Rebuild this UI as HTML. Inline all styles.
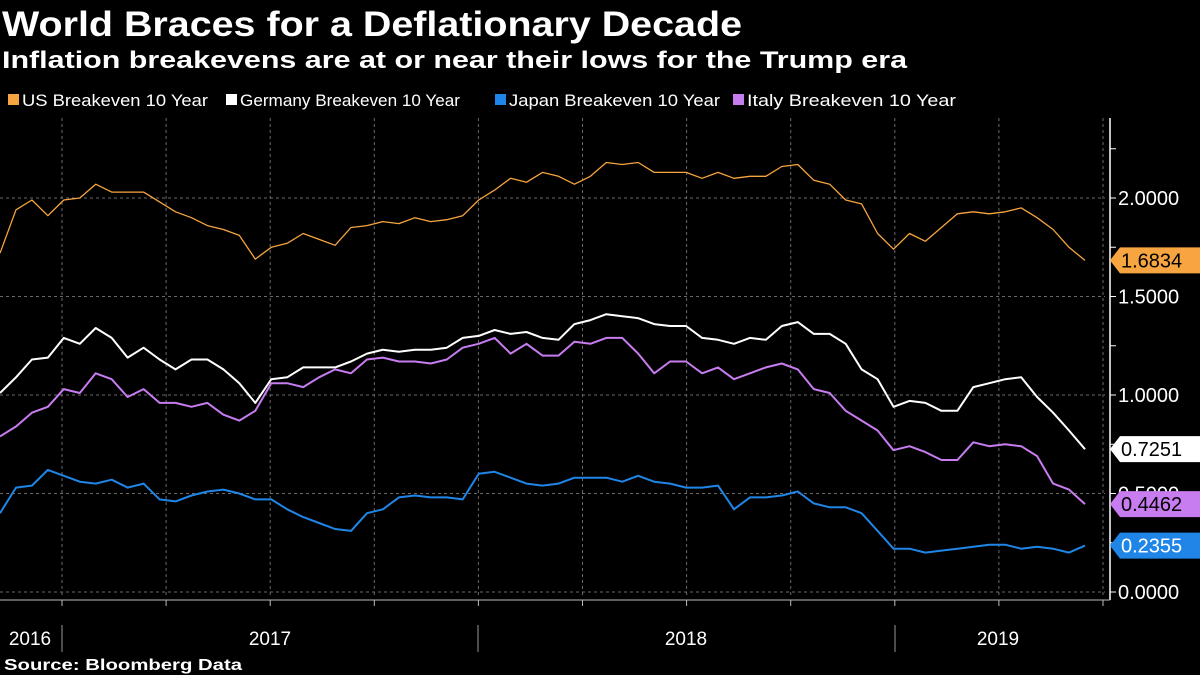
<!DOCTYPE html>
<html><head><meta charset="utf-8">
<style>
html,body{margin:0;padding:0;background:#000;}
svg{display:block;}
text{font-family:"Liberation Sans",sans-serif;}
</style></head>
<body>
<svg id="chart" width="1200" height="675" viewBox="0 0 1200 675" xmlns="http://www.w3.org/2000/svg">
<rect x="0" y="0" width="1200" height="675" fill="#000"/>
<text x="2" y="36" fill="#fff" font-size="35" font-weight="bold" textLength="740" lengthAdjust="spacingAndGlyphs">World Braces for a Deflationary Decade</text>
<text x="2" y="68" fill="#fff" font-size="24" font-weight="bold" textLength="905" lengthAdjust="spacingAndGlyphs">Inflation breakevens are at or near their lows for the Trump era</text>
<g id="legend"></g>
<g id="grid"></g>
<g id="series"></g>
<g id="axes"></g>
<text x="4" y="670" fill="#fff" font-size="16" font-weight="bold" textLength="238" lengthAdjust="spacingAndGlyphs">Source: Bloomberg Data</text>
</svg>
<script>
const seriesNames = ["US Breakeven 10 Year","Germany Breakeven 10 Year","Japan Breakeven 10 Year","Italy Breakeven 10 Year"];
const usValues = [1.72,1.94,1.99,1.91,1.99,2.00,2.07,2.03,2.03,2.03,1.98,1.93,1.90,1.86,1.84,1.81,1.69,1.75,1.77,1.82,1.79,1.76,1.85,1.86,1.88,1.87,1.90,1.88,1.89,1.91,1.99,2.04,2.10,2.08,2.13,2.11,2.07,2.11,2.18,2.17,2.18,2.13,2.13,2.13,2.10,2.13,2.10,2.11,2.11,2.16,2.17,2.09,2.07,1.99,1.97,1.82,1.74,1.82,1.78,1.85,1.92,1.93,1.92,1.93,1.95,1.90,1.84,1.75,1.6834];
const deValues = [1.01,1.09,1.18,1.19,1.29,1.26,1.34,1.29,1.19,1.24,1.18,1.13,1.18,1.18,1.13,1.06,0.96,1.08,1.09,1.14,1.14,1.14,1.17,1.21,1.23,1.22,1.23,1.23,1.24,1.29,1.30,1.33,1.31,1.32,1.29,1.28,1.36,1.38,1.41,1.40,1.39,1.36,1.35,1.35,1.29,1.28,1.26,1.29,1.28,1.35,1.37,1.31,1.31,1.26,1.13,1.08,0.94,0.97,0.96,0.92,0.92,1.04,1.06,1.08,1.09,0.99,0.91,0.82,0.7251];
const jpValues = [0.40,0.53,0.54,0.62,0.59,0.56,0.55,0.57,0.53,0.55,0.47,0.46,0.49,0.51,0.52,0.50,0.47,0.47,0.42,0.38,0.35,0.32,0.31,0.40,0.42,0.48,0.49,0.48,0.48,0.47,0.60,0.61,0.58,0.55,0.54,0.55,0.58,0.58,0.58,0.56,0.59,0.56,0.55,0.53,0.53,0.54,0.42,0.48,0.48,0.49,0.51,0.45,0.43,0.43,0.40,0.31,0.22,0.22,0.20,0.21,0.22,0.23,0.24,0.24,0.22,0.23,0.22,0.20,0.2355];
const itValues = [0.79,0.84,0.91,0.94,1.03,1.01,1.11,1.08,0.99,1.03,0.96,0.96,0.94,0.96,0.90,0.87,0.92,1.06,1.06,1.04,1.09,1.13,1.11,1.18,1.19,1.17,1.17,1.16,1.18,1.24,1.26,1.29,1.21,1.26,1.20,1.20,1.27,1.26,1.29,1.29,1.21,1.11,1.17,1.17,1.11,1.14,1.08,1.11,1.14,1.16,1.13,1.03,1.01,0.92,0.87,0.82,0.72,0.74,0.71,0.67,0.67,0.76,0.74,0.75,0.74,0.69,0.55,0.52,0.4462];
const yTicks = [0,0.5,1.0,1.5,2.0];
const yTickLabels = ["0.0000","0.5000","1.0000","1.5000","2.0000"];
const yearLabels = ["2016","2017","2018","2019"];
const colors = ["#f7a541","#ffffff","#1f86e8","#c77cf0"];

const NS = "http://www.w3.org/2000/svg";
const X0 = 0, X1 = 1085, Y0 = 592, PX_PER = 197;
function xScale(i, n){ return X0 + (X1 - X0) * i / (n - 1); }
function yScale(v){ return Y0 - PX_PER * v; }
// time axis: quarter boundaries in px (2017 Q1 start at 62, 416px per year)
function qx(q){ return 62 + q * 104.1; }
function mk(tag, attrs, parent){ const e = document.createElementNS(NS, tag); for (const k in attrs) e.setAttribute(k, attrs[k]); parent.appendChild(e); return e; }

const grid = document.getElementById('grid');
for (let q = 0; q <= 10; q++) {
  const gl = mk('line', {x1: qx(q), x2: qx(q), y1: 118, y2: 598, stroke: '#6a6a6a', 'stroke-width': 1, 'stroke-dasharray': '3,3'}, grid);
  
  
}
yTicks.forEach(v => {
  const gl = mk('line', {x1: 0, x2: 1105, y1: yScale(v), y2: yScale(v), stroke: '#6a6a6a', 'stroke-width': 1, 'stroke-dasharray': '3,3'}, grid);
  
  
});

const series = document.getElementById('series');
const allSeries = [usValues, deValues, jpValues, itValues];
const seriesKeys = ['us','germany','japan','italy'];
const drawOrder = [1,3,2,0];
drawOrder.forEach(si => {
  const vals = allSeries[si];
  const pts = vals.map((v, i) => xScale(i, vals.length).toFixed(1) + ',' + yScale(v).toFixed(1)).join(' ');
  const pl = mk('polyline', {points: pts, fill: 'none', stroke: colors[si], 'stroke-width': si === 0 ? 1.3 : 2, 'stroke-linejoin': 'round'}, series);
  
  
});

const axes = document.getElementById('axes');
mk('line', {x1: 1110, x2: 1110, y1: 118, y2: 600, stroke: '#fff', 'stroke-width': 1.5}, axes);
mk('line', {x1: 0, x2: 1110, y1: 600, y2: 600, stroke: '#bbb', 'stroke-width': 1}, axes);
for (let v = 0; v <= 2.25; v += 0.25) {
  mk('line', {x1: 1110, x2: 1116, y1: yScale(v), y2: yScale(v), stroke: '#fff', 'stroke-width': 1}, axes);
}
yTicks.forEach((v, i) => {
  const t = mk('text', {x: 1118, y: yScale(v) + 7, fill: '#fff', 'font-size': 20}, axes);
  t.textContent = yTickLabels[i];
  
  
});
for (let q = 0; q <= 10; q++) mk('line', {x1: qx(q), x2: qx(q), y1: 600, y2: 606, stroke: '#bbb', 'stroke-width': 1}, axes);
[62, 478, 895].forEach(x => mk('line', {x1: x, x2: x, y1: 625, y2: 652, stroke: '#999', 'stroke-width': 1}, axes));
const yearX = [30, 270, 686, 998];
yearLabels.forEach((lab, i) => {
  const t = mk('text', {x: yearX[i], y: 645, fill: '#fff', 'font-size': 19, 'text-anchor': 'middle'}, axes);
  t.textContent = lab;
  
  
});
// price tags
const lastVals = allSeries.map(a => a[a.length - 1]);
const tagText = ['#000','#000','#fff','#000'];
lastVals.forEach((v, i) => {
  const y = yScale(v);
  const g = mk('g', {}, axes);
  
  
  mk('path', {d: `M1110 ${y} L1120 ${y-13} L1200 ${y-13} L1200 ${y+13} L1120 ${y+13} Z`, fill: colors[i]}, g);
  const t = mk('text', {x: 1121, y: y + 7, fill: tagText[i], 'font-size': 20}, g);
  t.textContent = v.toFixed(4);
});

// legend
const legend = document.getElementById('legend');
const legX = [8, 226, 495, 733];
const legW = [186, 220, 211, 209];
seriesNames.forEach((nm, i) => {
  const g = mk('g', {}, legend);
  
  
  mk('rect', {x: legX[i], y: 94, width: 11, height: 11, fill: colors[i]}, g);
  const t = mk('text', {x: legX[i] + 14, y: 106, fill: '#fff', 'font-size': 17, textLength: legW[i], lengthAdjust: 'spacingAndGlyphs'}, g);
  t.textContent = nm;
});
</script>
</body></html>
